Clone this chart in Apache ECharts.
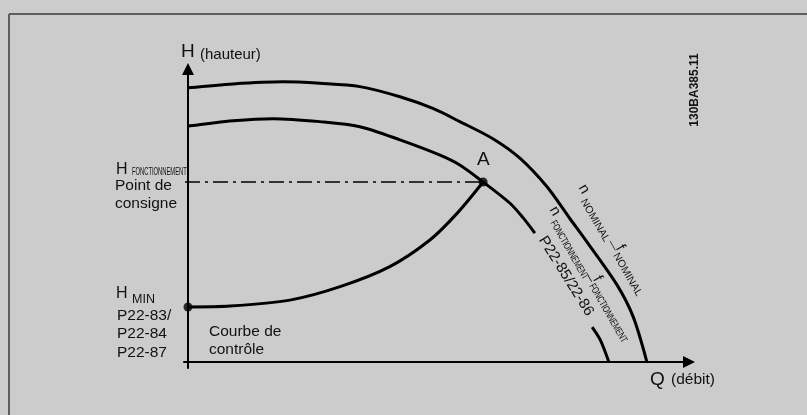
<!DOCTYPE html>
<html>
<head>
<meta charset="utf-8">
<script src="https://cdn.jsdelivr.net/npm/echarts@6/dist/echarts.min.js"></script>
<style>
  html,body{margin:0;padding:0;background:#cccccc;}
  #main{width:807px;height:415px;}
</style>
</head>
<body>
<div id="main"></div>
<script>
var nominalCurve = [[0,91.7],[8.9,93.0],[18.7,93.7],[26.0,93.2],[33.9,92.1],[41.8,88.7],[48.3,84.8],[53.6,80.4],[60.2,74.6],[65.5,68.1],[70.8,58.6],[75.3,48.0],[78.7,40.1],[84.6,25.8],[87.8,15.1],[90.5,0]];
var operatingUpper = [[0,78.9],[8.9,80.7],[16.8,81.4],[26.0,80.4],[33.9,78.7],[41.8,74.3],[49.7,69.2],[53.6,65.9],[58.2,60.2],[63.5,53.1],[66.1,48.2],[68.4,43.1]];
var operatingLower = [[79.7,11.7],[81.3,7.4],[83.0,0]];
var controlCurve = [[0,18.4],[8.3,18.7],[20.1,20.7],[30.0,25.2],[39.8,31.9],[47.7,40.8],[53.1,49.8],[58.2,60.2]];
var pointA = [58.2,60.2];
var pointHmin = [0,18.4];
var setpointLine = [[-0.6,60.2],[58.2,60.2]];

var FONT = 'Liberation Sans, Arial, sans-serif';
var myChart = echarts.init(document.getElementById('main'));

function txt(x, y, s, size, extra) {
    var o = {type:'text', x:x, y:y, style:{text:s, fontSize:size, fontFamily:FONT, fill:'#111', verticalAlign:'middle', align:'left'}};
    if (extra) { for (var k in extra) { if (k === 'style') { for (var j in extra.style) o.style[j] = extra.style[j]; } else o[k] = extra[k]; } }
    return o;
}

var curveLine = {color:'#000', width:3};

option = {
    backgroundColor:'#cccccc',
    animation:false,
    grid:{left:184, right:118, top:69, bottom:47},
    xAxis:{
        type:'value', min:-0.79, max:98.8,
        axisLine:{onZero:true, lineStyle:{color:'#000', width:2}, symbol:['none','triangle'], symbolSize:[12,12]},
        axisTick:{show:false}, axisLabel:{show:false}, splitLine:{show:false}
    },
    yAxis:{
        type:'value', min:-2, max:98,
        axisLine:{show:true, onZero:true, lineStyle:{color:'#000', width:2}, symbol:['none','triangle'], symbolSize:[12,12]},
        axisTick:{show:false}, axisLabel:{show:false}, splitLine:{show:false}
    },
    series:[
        {type:'line', data:nominalCurve, smooth:0.3, showSymbol:false, lineStyle:curveLine},
        {type:'line', data:operatingUpper, smooth:0.3, showSymbol:false, lineStyle:curveLine},
        {type:'line', data:operatingLower, smooth:0.3, showSymbol:false, lineStyle:curveLine},
        {type:'line', data:controlCurve, smooth:0.3, showSymbol:false, lineStyle:curveLine},
        {type:'line', data:setpointLine, showSymbol:false, lineStyle:{color:'#000', width:1.5, type:[15,5,3,5]}},
        {type:'scatter', data:[pointA, pointHmin], symbolSize:9, itemStyle:{color:'#000'}}
    ],
    graphic:[
        // cadre
        {type:'line', shape:{x1:9, y1:14, x2:807, y2:14}, style:{stroke:'#5e5e5e', lineWidth:2}},
        {type:'line', shape:{x1:9, y1:14, x2:9, y2:415}, style:{stroke:'#5e5e5e', lineWidth:2}},
        // titres des axes
        txt(181, 52, 'H', 19),
        txt(200, 55, '(hauteur)', 15),
        txt(650, 380, 'Q', 19),
        txt(671, 380, '(débit)', 15.5),
        txt(477, 160, 'A', 19),
        // consigne
        txt(116, 170, 'H', 16),
        txt(132, 172, 'FONCTIONNEMENT', 10, {scaleX:0.58}),
        txt(115, 176, 'Point de\nconsigne', 15.5, {style:{verticalAlign:'top', lineHeight:18.5}}),
        // H min
        txt(116, 294, 'H', 16),
        txt(132, 300, 'MIN', 12.5),
        txt(117, 306, 'P22-83/\nP22-84\nP22-87', 15.5, {style:{verticalAlign:'top', lineHeight:18.5}}),
        txt(209, 322, 'Courbe de\ncontrôle', 15.5, {style:{verticalAlign:'top', lineHeight:18.5}}),
        // référence
        txt(695, 90, '130BA385.11', 12, {rotation:Math.PI/2, style:{align:'center', fontWeight:'bold'}}),
        // étiquettes le long des courbes
        {type:'group', x:582, y:190, rotation:-Math.PI/3, children:[
            txt(-4, -2, 'n', 15),
            txt(9, 4, 'NOMINAL', 10.5),
            txt(58, 1, '—', 11),
            txt(67, -4, 'f', 15),
            txt(72, 3, 'NOMINAL', 10.5)
        ]},
        {type:'group', x:553, y:212, rotation:-Math.PI/3, children:[
            txt(-4, -2, 'n', 15),
            txt(8, 5, 'FONCTIONNEMENT', 10, {scaleX:0.7}),
            txt(73, 1, '–', 12),
            txt(78, -5, 'f', 15),
            txt(82, 3, 'FONCTIONNEMENT', 10, {scaleX:0.7})
        ]},
        {type:'group', x:566, y:276, rotation:-58*Math.PI/180, children:[
            txt(0, 0, 'P22-85/22-86', 15, {style:{align:'center'}})
        ]}
    ]
};

myChart.setOption(option);
</script>
</body>
</html>
